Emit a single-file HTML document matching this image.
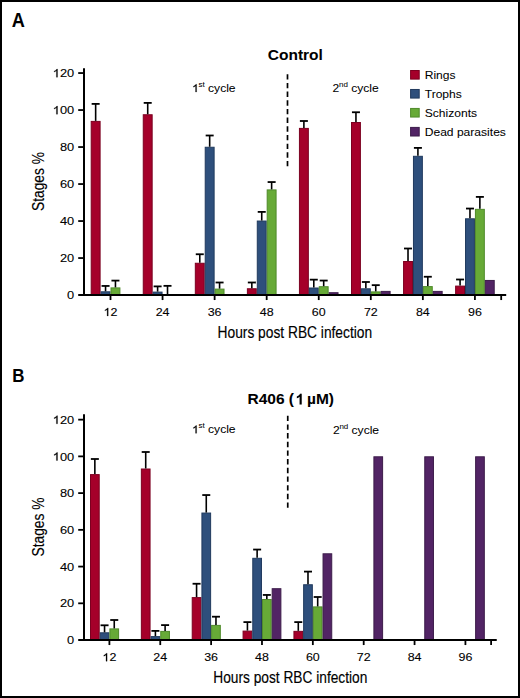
<!DOCTYPE html>
<html><head><meta charset="utf-8"><style>
html,body{margin:0;padding:0;background:#fff;}
body{width:520px;height:698px;overflow:hidden;}
svg{display:block;}
text{font-family:"Liberation Sans", sans-serif;fill:#000;stroke:#000;stroke-width:0.05px;}
.tt,.pl{stroke-width:0.05px;}
.h1{fill:none;stroke:none;}
.nk{font-kerning:none;}
.tk{font-size:11.6px;stroke-width:0.1px;}
.lg{font-size:11.4px;}
.cy{font-size:11.2px;}
.sup{font-size:7.4px;}
.at{font-size:16px;stroke-width:0.15px;}
.at2{font-size:15.6px;stroke-width:0.15px;}
.tt{font-size:15.5px;font-weight:bold;}
.pl{font-size:19.5px;font-weight:bold;}
.pl2{font-size:19px;font-weight:bold;stroke-width:0.05px;}
</style></head><body>
<svg width="520" height="698" viewBox="0 0 520 698">
<rect x="0" y="0" width="520" height="698" fill="#fff"/>
<rect x="91.20" y="121.40" width="8.90" height="173.65" fill="#a5002a" stroke="#7c0020" stroke-width="1"/>
<line x1="95.65" y1="120.90" x2="95.65" y2="103.90" stroke="#000" stroke-width="1.6"/>
<line x1="91.65" y1="103.90" x2="99.65" y2="103.90" stroke="#000" stroke-width="1.8"/>
<rect x="101.10" y="291.80" width="8.90" height="3.25" fill="#2e4f7c" stroke="#203a5e" stroke-width="1"/>
<line x1="105.55" y1="291.30" x2="105.55" y2="285.95" stroke="#000" stroke-width="1.6"/>
<line x1="101.55" y1="285.95" x2="109.55" y2="285.95" stroke="#000" stroke-width="1.8"/>
<rect x="111.00" y="287.90" width="8.90" height="7.15" fill="#67aa37" stroke="#4f8a2a" stroke-width="1"/>
<line x1="115.45" y1="287.40" x2="115.45" y2="280.60" stroke="#000" stroke-width="1.6"/>
<line x1="111.45" y1="280.60" x2="119.45" y2="280.60" stroke="#000" stroke-width="1.8"/>
<rect x="143.26" y="114.75" width="8.90" height="180.30" fill="#a5002a" stroke="#7c0020" stroke-width="1"/>
<line x1="147.71" y1="114.25" x2="147.71" y2="102.90" stroke="#000" stroke-width="1.6"/>
<line x1="143.71" y1="102.90" x2="151.71" y2="102.90" stroke="#000" stroke-width="1.8"/>
<rect x="153.16" y="292.10" width="8.90" height="2.95" fill="#2e4f7c" stroke="#203a5e" stroke-width="1"/>
<line x1="157.61" y1="291.60" x2="157.61" y2="286.40" stroke="#000" stroke-width="1.6"/>
<line x1="153.61" y1="286.40" x2="161.61" y2="286.40" stroke="#000" stroke-width="1.8"/>
<rect x="163.06" y="294.80" width="8.90" height="0.25" fill="#67aa37" stroke="#4f8a2a" stroke-width="1"/>
<line x1="167.51" y1="294.30" x2="167.51" y2="285.85" stroke="#000" stroke-width="1.6"/>
<line x1="163.51" y1="285.85" x2="171.51" y2="285.85" stroke="#000" stroke-width="1.8"/>
<rect x="195.32" y="263.25" width="8.90" height="31.80" fill="#a5002a" stroke="#7c0020" stroke-width="1"/>
<line x1="199.77" y1="262.75" x2="199.77" y2="254.25" stroke="#000" stroke-width="1.6"/>
<line x1="195.77" y1="254.25" x2="203.77" y2="254.25" stroke="#000" stroke-width="1.8"/>
<rect x="205.22" y="147.25" width="8.90" height="147.80" fill="#2e4f7c" stroke="#203a5e" stroke-width="1"/>
<line x1="209.67" y1="146.75" x2="209.67" y2="135.50" stroke="#000" stroke-width="1.6"/>
<line x1="205.67" y1="135.50" x2="213.67" y2="135.50" stroke="#000" stroke-width="1.8"/>
<rect x="215.12" y="289.10" width="8.90" height="5.95" fill="#67aa37" stroke="#4f8a2a" stroke-width="1"/>
<line x1="219.57" y1="288.60" x2="219.57" y2="282.50" stroke="#000" stroke-width="1.6"/>
<line x1="215.57" y1="282.50" x2="223.57" y2="282.50" stroke="#000" stroke-width="1.8"/>
<rect x="247.38" y="288.75" width="8.90" height="6.30" fill="#a5002a" stroke="#7c0020" stroke-width="1"/>
<line x1="251.83" y1="288.25" x2="251.83" y2="282.50" stroke="#000" stroke-width="1.6"/>
<line x1="247.83" y1="282.50" x2="255.83" y2="282.50" stroke="#000" stroke-width="1.8"/>
<rect x="257.28" y="221.05" width="8.90" height="74.00" fill="#2e4f7c" stroke="#203a5e" stroke-width="1"/>
<line x1="261.73" y1="220.55" x2="261.73" y2="211.90" stroke="#000" stroke-width="1.6"/>
<line x1="257.73" y1="211.90" x2="265.73" y2="211.90" stroke="#000" stroke-width="1.8"/>
<rect x="267.18" y="189.90" width="8.90" height="105.15" fill="#67aa37" stroke="#4f8a2a" stroke-width="1"/>
<line x1="271.63" y1="189.40" x2="271.63" y2="182.05" stroke="#000" stroke-width="1.6"/>
<line x1="267.63" y1="182.05" x2="275.63" y2="182.05" stroke="#000" stroke-width="1.8"/>
<rect x="299.44" y="128.40" width="8.90" height="166.65" fill="#a5002a" stroke="#7c0020" stroke-width="1"/>
<line x1="303.89" y1="127.90" x2="303.89" y2="121.00" stroke="#000" stroke-width="1.6"/>
<line x1="299.89" y1="121.00" x2="307.89" y2="121.00" stroke="#000" stroke-width="1.8"/>
<rect x="309.34" y="288.00" width="8.90" height="7.05" fill="#2e4f7c" stroke="#203a5e" stroke-width="1"/>
<line x1="313.79" y1="287.50" x2="313.79" y2="279.65" stroke="#000" stroke-width="1.6"/>
<line x1="309.79" y1="279.65" x2="317.79" y2="279.65" stroke="#000" stroke-width="1.8"/>
<rect x="319.24" y="286.70" width="8.90" height="8.35" fill="#67aa37" stroke="#4f8a2a" stroke-width="1"/>
<line x1="323.69" y1="286.20" x2="323.69" y2="280.55" stroke="#000" stroke-width="1.6"/>
<line x1="319.69" y1="280.55" x2="327.69" y2="280.55" stroke="#000" stroke-width="1.8"/>
<rect x="329.14" y="292.70" width="8.90" height="2.35" fill="#522465" stroke="#3c1c4a" stroke-width="1"/>
<rect x="351.50" y="122.50" width="8.90" height="172.55" fill="#a5002a" stroke="#7c0020" stroke-width="1"/>
<line x1="355.95" y1="122.00" x2="355.95" y2="112.25" stroke="#000" stroke-width="1.6"/>
<line x1="351.95" y1="112.25" x2="359.95" y2="112.25" stroke="#000" stroke-width="1.8"/>
<rect x="361.40" y="288.80" width="8.90" height="6.25" fill="#2e4f7c" stroke="#203a5e" stroke-width="1"/>
<line x1="365.85" y1="288.30" x2="365.85" y2="282.00" stroke="#000" stroke-width="1.6"/>
<line x1="361.85" y1="282.00" x2="369.85" y2="282.00" stroke="#000" stroke-width="1.8"/>
<rect x="371.30" y="291.90" width="8.90" height="3.15" fill="#67aa37" stroke="#4f8a2a" stroke-width="1"/>
<line x1="375.75" y1="291.40" x2="375.75" y2="285.15" stroke="#000" stroke-width="1.6"/>
<line x1="371.75" y1="285.15" x2="379.75" y2="285.15" stroke="#000" stroke-width="1.8"/>
<rect x="381.20" y="291.40" width="8.90" height="3.65" fill="#522465" stroke="#3c1c4a" stroke-width="1"/>
<rect x="403.56" y="261.50" width="8.90" height="33.55" fill="#a5002a" stroke="#7c0020" stroke-width="1"/>
<line x1="408.01" y1="261.00" x2="408.01" y2="248.50" stroke="#000" stroke-width="1.6"/>
<line x1="404.01" y1="248.50" x2="412.01" y2="248.50" stroke="#000" stroke-width="1.8"/>
<rect x="413.46" y="156.30" width="8.90" height="138.75" fill="#2e4f7c" stroke="#203a5e" stroke-width="1"/>
<line x1="417.91" y1="155.80" x2="417.91" y2="147.90" stroke="#000" stroke-width="1.6"/>
<line x1="413.91" y1="147.90" x2="421.91" y2="147.90" stroke="#000" stroke-width="1.8"/>
<rect x="423.36" y="286.60" width="8.90" height="8.45" fill="#67aa37" stroke="#4f8a2a" stroke-width="1"/>
<line x1="427.81" y1="286.10" x2="427.81" y2="276.75" stroke="#000" stroke-width="1.6"/>
<line x1="423.81" y1="276.75" x2="431.81" y2="276.75" stroke="#000" stroke-width="1.8"/>
<rect x="433.26" y="291.40" width="8.90" height="3.65" fill="#522465" stroke="#3c1c4a" stroke-width="1"/>
<rect x="455.62" y="286.10" width="8.90" height="8.95" fill="#a5002a" stroke="#7c0020" stroke-width="1"/>
<line x1="460.07" y1="285.60" x2="460.07" y2="279.50" stroke="#000" stroke-width="1.6"/>
<line x1="456.07" y1="279.50" x2="464.07" y2="279.50" stroke="#000" stroke-width="1.8"/>
<rect x="465.52" y="218.80" width="8.90" height="76.25" fill="#2e4f7c" stroke="#203a5e" stroke-width="1"/>
<line x1="469.97" y1="218.30" x2="469.97" y2="208.55" stroke="#000" stroke-width="1.6"/>
<line x1="465.97" y1="208.55" x2="473.97" y2="208.55" stroke="#000" stroke-width="1.8"/>
<rect x="475.42" y="209.35" width="8.90" height="85.70" fill="#67aa37" stroke="#4f8a2a" stroke-width="1"/>
<line x1="479.87" y1="208.85" x2="479.87" y2="196.90" stroke="#000" stroke-width="1.6"/>
<line x1="475.87" y1="196.90" x2="483.87" y2="196.90" stroke="#000" stroke-width="1.8"/>
<rect x="485.32" y="280.45" width="8.90" height="14.60" fill="#522465" stroke="#3c1c4a" stroke-width="1"/>
<line x1="84.00" y1="68.15" x2="84.00" y2="296.05" stroke="#000" stroke-width="2"/>
<line x1="78.20" y1="295.05" x2="506.20" y2="295.05" stroke="#000" stroke-width="2"/>
<line x1="78.20" y1="258.05" x2="84.00" y2="258.05" stroke="#000" stroke-width="1.8"/>
<line x1="78.20" y1="221.05" x2="84.00" y2="221.05" stroke="#000" stroke-width="1.8"/>
<line x1="78.20" y1="184.05" x2="84.00" y2="184.05" stroke="#000" stroke-width="1.8"/>
<line x1="78.20" y1="147.05" x2="84.00" y2="147.05" stroke="#000" stroke-width="1.8"/>
<line x1="78.20" y1="110.05" x2="84.00" y2="110.05" stroke="#000" stroke-width="1.8"/>
<line x1="78.20" y1="73.05" x2="84.00" y2="73.05" stroke="#000" stroke-width="1.8"/>
<text transform="translate(74.20,299.20) scale(1.09,1.0)" text-anchor="end" class="tk" style="font-size:11.8px">0</text>
<text transform="translate(74.20,262.20) scale(1.09,1.0)" text-anchor="end" class="tk" style="font-size:11.8px">20</text>
<text transform="translate(74.20,225.20) scale(1.09,1.0)" text-anchor="end" class="tk" style="font-size:11.8px">40</text>
<text transform="translate(74.20,188.20) scale(1.09,1.0)" text-anchor="end" class="tk" style="font-size:11.8px">60</text>
<text transform="translate(74.20,151.20) scale(1.09,1.0)" text-anchor="end" class="tk" style="font-size:11.8px">80</text>
<text transform="translate(74.20,114.20) scale(1.09,1.0)" text-anchor="end" class="tk nk" style="font-size:11.8px"><tspan class="h1">1</tspan>00</text>
<path transform="translate(52.74,114.20) scale(0.006280,-0.005762)" d="M763.0 0.0H583.0V1097.9Q518.0 1038.6 412.5 979.2Q307.0 919.9 223.0 890.2V1056.8Q374.0 1124.7 487.0 1221.4Q600.0 1318.1 647.0 1409.0H763.0Z" fill="#000" stroke="#000" stroke-width="0.25" vector-effect="non-scaling-stroke"/>
<text transform="translate(74.20,77.20) scale(1.09,1.0)" text-anchor="end" class="tk nk" style="font-size:11.8px"><tspan class="h1">1</tspan>20</text>
<path transform="translate(52.74,77.20) scale(0.006280,-0.005762)" d="M763.0 0.0H583.0V1097.9Q518.0 1038.6 412.5 979.2Q307.0 919.9 223.0 890.2V1056.8Q374.0 1124.7 487.0 1221.4Q600.0 1318.1 647.0 1409.0H763.0Z" fill="#000" stroke="#000" stroke-width="0.25" vector-effect="non-scaling-stroke"/>
<line x1="110.50" y1="295.05" x2="110.50" y2="300.05" stroke="#000" stroke-width="1.8"/>
<text transform="translate(110.50,315.90) scale(1.075,1.0)" text-anchor="middle" class="tk nk" style="font-size:11.6px"><tspan class="h1">1</tspan>2</text>
<path transform="translate(103.56,315.90) scale(0.006089,-0.005664)" d="M763.0 0.0H583.0V1097.9Q518.0 1038.6 412.5 979.2Q307.0 919.9 223.0 890.2V1056.8Q374.0 1124.7 487.0 1221.4Q600.0 1318.1 647.0 1409.0H763.0Z" fill="#000" stroke="#000" stroke-width="0.25" vector-effect="non-scaling-stroke"/>
<line x1="162.56" y1="295.05" x2="162.56" y2="300.05" stroke="#000" stroke-width="1.8"/>
<text transform="translate(162.56,315.90) scale(1.075,1.0)" text-anchor="middle" class="tk" style="font-size:11.6px">24</text>
<line x1="214.62" y1="295.05" x2="214.62" y2="300.05" stroke="#000" stroke-width="1.8"/>
<text transform="translate(214.62,315.90) scale(1.075,1.0)" text-anchor="middle" class="tk" style="font-size:11.6px">36</text>
<line x1="266.68" y1="295.05" x2="266.68" y2="300.05" stroke="#000" stroke-width="1.8"/>
<text transform="translate(266.68,315.90) scale(1.075,1.0)" text-anchor="middle" class="tk" style="font-size:11.6px">48</text>
<line x1="318.74" y1="295.05" x2="318.74" y2="300.05" stroke="#000" stroke-width="1.8"/>
<text transform="translate(318.74,315.90) scale(1.075,1.0)" text-anchor="middle" class="tk" style="font-size:11.6px">60</text>
<line x1="370.80" y1="295.05" x2="370.80" y2="300.05" stroke="#000" stroke-width="1.8"/>
<text transform="translate(370.80,315.90) scale(1.075,1.0)" text-anchor="middle" class="tk" style="font-size:11.6px">72</text>
<line x1="422.86" y1="295.05" x2="422.86" y2="300.05" stroke="#000" stroke-width="1.8"/>
<text transform="translate(422.86,315.90) scale(1.075,1.0)" text-anchor="middle" class="tk" style="font-size:11.6px">84</text>
<line x1="474.92" y1="295.05" x2="474.92" y2="300.05" stroke="#000" stroke-width="1.8"/>
<text transform="translate(474.92,315.90) scale(1.075,1.0)" text-anchor="middle" class="tk" style="font-size:11.6px">96</text>
<line x1="501.20" y1="295.05" x2="501.20" y2="300.05" stroke="#000" stroke-width="1.8"/>
<line x1="287.5" y1="74.2" x2="287.5" y2="166.2" stroke="#000" stroke-width="1.7" stroke-dasharray="5.4 3.28"/>
<rect x="90.50" y="474.60" width="8.70" height="165.45" fill="#a5002a" stroke="#7c0020" stroke-width="1"/>
<line x1="94.85" y1="474.10" x2="94.85" y2="459.00" stroke="#000" stroke-width="1.6"/>
<line x1="90.85" y1="459.00" x2="98.85" y2="459.00" stroke="#000" stroke-width="1.8"/>
<rect x="100.20" y="632.80" width="8.70" height="7.25" fill="#2e4f7c" stroke="#203a5e" stroke-width="1"/>
<line x1="104.55" y1="632.30" x2="104.55" y2="625.30" stroke="#000" stroke-width="1.6"/>
<line x1="100.55" y1="625.30" x2="108.55" y2="625.30" stroke="#000" stroke-width="1.8"/>
<rect x="109.90" y="628.90" width="8.70" height="11.15" fill="#67aa37" stroke="#4f8a2a" stroke-width="1"/>
<line x1="114.25" y1="628.40" x2="114.25" y2="620.00" stroke="#000" stroke-width="1.6"/>
<line x1="110.25" y1="620.00" x2="118.25" y2="620.00" stroke="#000" stroke-width="1.8"/>
<rect x="141.36" y="469.00" width="8.70" height="171.05" fill="#a5002a" stroke="#7c0020" stroke-width="1"/>
<line x1="145.71" y1="468.50" x2="145.71" y2="452.00" stroke="#000" stroke-width="1.6"/>
<line x1="141.71" y1="452.00" x2="149.71" y2="452.00" stroke="#000" stroke-width="1.8"/>
<rect x="151.06" y="636.60" width="8.70" height="3.45" fill="#2e4f7c" stroke="#203a5e" stroke-width="1"/>
<line x1="155.41" y1="636.10" x2="155.41" y2="630.90" stroke="#000" stroke-width="1.6"/>
<line x1="151.41" y1="630.90" x2="159.41" y2="630.90" stroke="#000" stroke-width="1.8"/>
<rect x="160.76" y="631.40" width="8.70" height="8.65" fill="#67aa37" stroke="#4f8a2a" stroke-width="1"/>
<line x1="165.11" y1="630.90" x2="165.11" y2="625.10" stroke="#000" stroke-width="1.6"/>
<line x1="161.11" y1="625.10" x2="169.11" y2="625.10" stroke="#000" stroke-width="1.8"/>
<rect x="192.22" y="597.60" width="8.70" height="42.45" fill="#a5002a" stroke="#7c0020" stroke-width="1"/>
<line x1="196.57" y1="597.10" x2="196.57" y2="583.75" stroke="#000" stroke-width="1.6"/>
<line x1="192.57" y1="583.75" x2="200.57" y2="583.75" stroke="#000" stroke-width="1.8"/>
<rect x="201.92" y="513.05" width="8.70" height="127.00" fill="#2e4f7c" stroke="#203a5e" stroke-width="1"/>
<line x1="206.27" y1="512.55" x2="206.27" y2="495.05" stroke="#000" stroke-width="1.6"/>
<line x1="202.27" y1="495.05" x2="210.27" y2="495.05" stroke="#000" stroke-width="1.8"/>
<rect x="211.62" y="625.40" width="8.70" height="14.65" fill="#67aa37" stroke="#4f8a2a" stroke-width="1"/>
<line x1="215.97" y1="624.90" x2="215.97" y2="616.70" stroke="#000" stroke-width="1.6"/>
<line x1="211.97" y1="616.70" x2="219.97" y2="616.70" stroke="#000" stroke-width="1.8"/>
<rect x="243.08" y="631.10" width="8.70" height="8.95" fill="#a5002a" stroke="#7c0020" stroke-width="1"/>
<line x1="247.43" y1="630.60" x2="247.43" y2="622.10" stroke="#000" stroke-width="1.6"/>
<line x1="243.43" y1="622.10" x2="251.43" y2="622.10" stroke="#000" stroke-width="1.8"/>
<rect x="252.78" y="558.30" width="8.70" height="81.75" fill="#2e4f7c" stroke="#203a5e" stroke-width="1"/>
<line x1="257.13" y1="557.80" x2="257.13" y2="549.55" stroke="#000" stroke-width="1.6"/>
<line x1="253.13" y1="549.55" x2="261.13" y2="549.55" stroke="#000" stroke-width="1.8"/>
<rect x="262.48" y="599.50" width="8.70" height="40.55" fill="#67aa37" stroke="#4f8a2a" stroke-width="1"/>
<line x1="266.83" y1="599.00" x2="266.83" y2="594.95" stroke="#000" stroke-width="1.6"/>
<line x1="262.83" y1="594.95" x2="270.83" y2="594.95" stroke="#000" stroke-width="1.8"/>
<rect x="272.18" y="588.70" width="8.70" height="51.35" fill="#522465" stroke="#3c1c4a" stroke-width="1"/>
<rect x="293.94" y="631.35" width="8.70" height="8.70" fill="#a5002a" stroke="#7c0020" stroke-width="1"/>
<line x1="298.29" y1="630.85" x2="298.29" y2="622.10" stroke="#000" stroke-width="1.6"/>
<line x1="294.29" y1="622.10" x2="302.29" y2="622.10" stroke="#000" stroke-width="1.8"/>
<rect x="303.64" y="584.75" width="8.70" height="55.30" fill="#2e4f7c" stroke="#203a5e" stroke-width="1"/>
<line x1="307.99" y1="584.25" x2="307.99" y2="571.60" stroke="#000" stroke-width="1.6"/>
<line x1="303.99" y1="571.60" x2="311.99" y2="571.60" stroke="#000" stroke-width="1.8"/>
<rect x="313.34" y="606.90" width="8.70" height="33.15" fill="#67aa37" stroke="#4f8a2a" stroke-width="1"/>
<line x1="317.69" y1="606.40" x2="317.69" y2="597.00" stroke="#000" stroke-width="1.6"/>
<line x1="313.69" y1="597.00" x2="321.69" y2="597.00" stroke="#000" stroke-width="1.8"/>
<rect x="323.04" y="553.80" width="8.70" height="86.25" fill="#522465" stroke="#3c1c4a" stroke-width="1"/>
<rect x="373.90" y="456.80" width="8.70" height="183.25" fill="#522465" stroke="#3c1c4a" stroke-width="1"/>
<rect x="424.76" y="456.80" width="8.70" height="183.25" fill="#522465" stroke="#3c1c4a" stroke-width="1"/>
<rect x="475.62" y="456.80" width="8.70" height="183.25" fill="#522465" stroke="#3c1c4a" stroke-width="1"/>
<line x1="84.00" y1="414.15" x2="84.00" y2="641.05" stroke="#000" stroke-width="2"/>
<line x1="78.20" y1="640.05" x2="496.75" y2="640.05" stroke="#000" stroke-width="2"/>
<line x1="78.20" y1="603.32" x2="84.00" y2="603.32" stroke="#000" stroke-width="1.8"/>
<line x1="78.20" y1="566.58" x2="84.00" y2="566.58" stroke="#000" stroke-width="1.8"/>
<line x1="78.20" y1="529.85" x2="84.00" y2="529.85" stroke="#000" stroke-width="1.8"/>
<line x1="78.20" y1="493.11" x2="84.00" y2="493.11" stroke="#000" stroke-width="1.8"/>
<line x1="78.20" y1="456.38" x2="84.00" y2="456.38" stroke="#000" stroke-width="1.8"/>
<line x1="78.20" y1="419.65" x2="84.00" y2="419.65" stroke="#000" stroke-width="1.8"/>
<text transform="translate(74.20,644.20) scale(1.09,1.0)" text-anchor="end" class="tk" style="font-size:11.8px">0</text>
<text transform="translate(74.20,607.47) scale(1.09,1.0)" text-anchor="end" class="tk" style="font-size:11.8px">20</text>
<text transform="translate(74.20,570.73) scale(1.09,1.0)" text-anchor="end" class="tk" style="font-size:11.8px">40</text>
<text transform="translate(74.20,534.00) scale(1.09,1.0)" text-anchor="end" class="tk" style="font-size:11.8px">60</text>
<text transform="translate(74.20,497.26) scale(1.09,1.0)" text-anchor="end" class="tk" style="font-size:11.8px">80</text>
<text transform="translate(74.20,460.53) scale(1.09,1.0)" text-anchor="end" class="tk nk" style="font-size:11.8px"><tspan class="h1">1</tspan>00</text>
<path transform="translate(52.74,460.53) scale(0.006280,-0.005762)" d="M763.0 0.0H583.0V1097.9Q518.0 1038.6 412.5 979.2Q307.0 919.9 223.0 890.2V1056.8Q374.0 1124.7 487.0 1221.4Q600.0 1318.1 647.0 1409.0H763.0Z" fill="#000" stroke="#000" stroke-width="0.25" vector-effect="non-scaling-stroke"/>
<text transform="translate(74.20,423.80) scale(1.09,1.0)" text-anchor="end" class="tk nk" style="font-size:11.8px"><tspan class="h1">1</tspan>20</text>
<path transform="translate(52.74,423.80) scale(0.006280,-0.005762)" d="M763.0 0.0H583.0V1097.9Q518.0 1038.6 412.5 979.2Q307.0 919.9 223.0 890.2V1056.8Q374.0 1124.7 487.0 1221.4Q600.0 1318.1 647.0 1409.0H763.0Z" fill="#000" stroke="#000" stroke-width="0.25" vector-effect="non-scaling-stroke"/>
<line x1="109.40" y1="640.05" x2="109.40" y2="645.05" stroke="#000" stroke-width="1.8"/>
<text transform="translate(109.40,661.20) scale(1.075,1.0)" text-anchor="middle" class="tk nk" style="font-size:11.6px"><tspan class="h1">1</tspan>2</text>
<path transform="translate(102.46,661.20) scale(0.006089,-0.005664)" d="M763.0 0.0H583.0V1097.9Q518.0 1038.6 412.5 979.2Q307.0 919.9 223.0 890.2V1056.8Q374.0 1124.7 487.0 1221.4Q600.0 1318.1 647.0 1409.0H763.0Z" fill="#000" stroke="#000" stroke-width="0.25" vector-effect="non-scaling-stroke"/>
<line x1="160.26" y1="640.05" x2="160.26" y2="645.05" stroke="#000" stroke-width="1.8"/>
<text transform="translate(160.26,661.20) scale(1.075,1.0)" text-anchor="middle" class="tk" style="font-size:11.6px">24</text>
<line x1="211.12" y1="640.05" x2="211.12" y2="645.05" stroke="#000" stroke-width="1.8"/>
<text transform="translate(211.12,661.20) scale(1.075,1.0)" text-anchor="middle" class="tk" style="font-size:11.6px">36</text>
<line x1="261.98" y1="640.05" x2="261.98" y2="645.05" stroke="#000" stroke-width="1.8"/>
<text transform="translate(261.98,661.20) scale(1.075,1.0)" text-anchor="middle" class="tk" style="font-size:11.6px">48</text>
<line x1="312.84" y1="640.05" x2="312.84" y2="645.05" stroke="#000" stroke-width="1.8"/>
<text transform="translate(312.84,661.20) scale(1.075,1.0)" text-anchor="middle" class="tk" style="font-size:11.6px">60</text>
<line x1="363.70" y1="640.05" x2="363.70" y2="645.05" stroke="#000" stroke-width="1.8"/>
<text transform="translate(363.70,661.20) scale(1.075,1.0)" text-anchor="middle" class="tk" style="font-size:11.6px">72</text>
<line x1="414.56" y1="640.05" x2="414.56" y2="645.05" stroke="#000" stroke-width="1.8"/>
<text transform="translate(414.56,661.20) scale(1.075,1.0)" text-anchor="middle" class="tk" style="font-size:11.6px">84</text>
<line x1="465.42" y1="640.05" x2="465.42" y2="645.05" stroke="#000" stroke-width="1.8"/>
<text transform="translate(465.42,661.20) scale(1.075,1.0)" text-anchor="middle" class="tk" style="font-size:11.6px">96</text>
<line x1="491.10" y1="640.05" x2="491.10" y2="645.05" stroke="#000" stroke-width="1.8"/>
<line x1="287.75" y1="415.7" x2="287.75" y2="507.7" stroke="#000" stroke-width="1.7" stroke-dasharray="5.4 3.28"/>
<rect x="410.6" y="70.50" width="8.6" height="8.6" fill="#a5002a" stroke="#7c0020" stroke-width="1"/>
<text transform="translate(424.70,78.75) scale(1.06,1.0)" class="lg">Rings</text>
<rect x="410.6" y="89.47" width="8.6" height="8.6" fill="#2e4f7c" stroke="#203a5e" stroke-width="1"/>
<text transform="translate(424.70,97.72) scale(1.06,1.0)" class="lg">Trophs</text>
<rect x="410.6" y="108.44" width="8.6" height="8.6" fill="#67aa37" stroke="#4f8a2a" stroke-width="1"/>
<text transform="translate(424.70,116.69) scale(1.06,1.0)" class="lg">Schizonts</text>
<rect x="410.6" y="127.41" width="8.6" height="8.6" fill="#522465" stroke="#3c1c4a" stroke-width="1"/>
<text transform="translate(424.70,135.66) scale(1.06,1.0)" class="lg">Dead parasites</text>
<text transform="translate(11.80,26.70) scale(0.93,1.0)" class="pl">A</text>
<text transform="translate(12.30,382.20) scale(0.89,1.0)" class="pl2">B</text>
<text x="267.8" y="60" class="tt">Control</text>
<text x="247.50" y="404.40" class="tt nk" style="font-size:15.5px">R406 (<tspan class="h1">1</tspan> µM)</text>
<path transform="translate(294.02,404.40) scale(0.007568,-0.007568)" d="M1017.0 0.0H736.0V1013.7Q582.0 875.8 373.0 809.8V1053.9Q483.0 1088.3 612.0 1184.5Q741.0 1280.7 789.0 1409.0H1017.0Z" fill="#000" stroke="#000" stroke-width="0.05" vector-effect="non-scaling-stroke"/>
<path transform="translate(192.10,92.00) scale(0.005906,-0.005469)" d="M763.0 0.0H583.0V1097.9Q518.0 1038.6 412.5 979.2Q307.0 919.9 223.0 890.2V1056.8Q374.0 1124.7 487.0 1221.4Q600.0 1318.1 647.0 1409.0H763.0Z" fill="#000" stroke="#000" stroke-width="0.25" vector-effect="non-scaling-stroke"/>
<text transform="translate(192.1,92.0) scale(1.08,1)" class="cy nk"><tspan class="h1">1</tspan><tspan class="sup" dy="-5.0" dx="-0.2">st</tspan><tspan dy="5.0" dx="-0.1"> cycle</tspan></text>
<text transform="translate(332.5,92.3) scale(1.08,1)" class="cy nk">2<tspan class="sup" dy="-5.0" dx="-0.2">nd</tspan><tspan dy="5.0" dx="-0.1"> cycle</tspan></text>
<path transform="translate(192.10,433.30) scale(0.005906,-0.005469)" d="M763.0 0.0H583.0V1097.9Q518.0 1038.6 412.5 979.2Q307.0 919.9 223.0 890.2V1056.8Q374.0 1124.7 487.0 1221.4Q600.0 1318.1 647.0 1409.0H763.0Z" fill="#000" stroke="#000" stroke-width="0.25" vector-effect="non-scaling-stroke"/>
<text transform="translate(192.1,433.3) scale(1.08,1)" class="cy nk"><tspan class="h1">1</tspan><tspan class="sup" dy="-5.0" dx="-0.2">st</tspan><tspan dy="5.0" dx="-0.1"> cycle</tspan></text>
<text transform="translate(332.9,433.6) scale(1.08,1)" class="cy nk">2<tspan class="sup" dy="-5.0" dx="-0.2">nd</tspan><tspan dy="5.0" dx="-0.1"> cycle</tspan></text>
<text x="217.6" y="337.9" class="at" textLength="154.5" lengthAdjust="spacingAndGlyphs">Hours post RBC infection</text>
<text x="213.3" y="682.9" class="at" textLength="154" lengthAdjust="spacingAndGlyphs">Hours post RBC infection</text>
<text transform="translate(43.5,211.0) rotate(-90)" class="at2" textLength="59" lengthAdjust="spacingAndGlyphs">Stages %</text>
<text transform="translate(43.5,556.5) rotate(-90)" class="at2" textLength="59" lengthAdjust="spacingAndGlyphs">Stages %</text>
<rect x="1" y="1" width="518" height="696" fill="none" stroke="#000" stroke-width="2"/>
</svg>
</body></html>
